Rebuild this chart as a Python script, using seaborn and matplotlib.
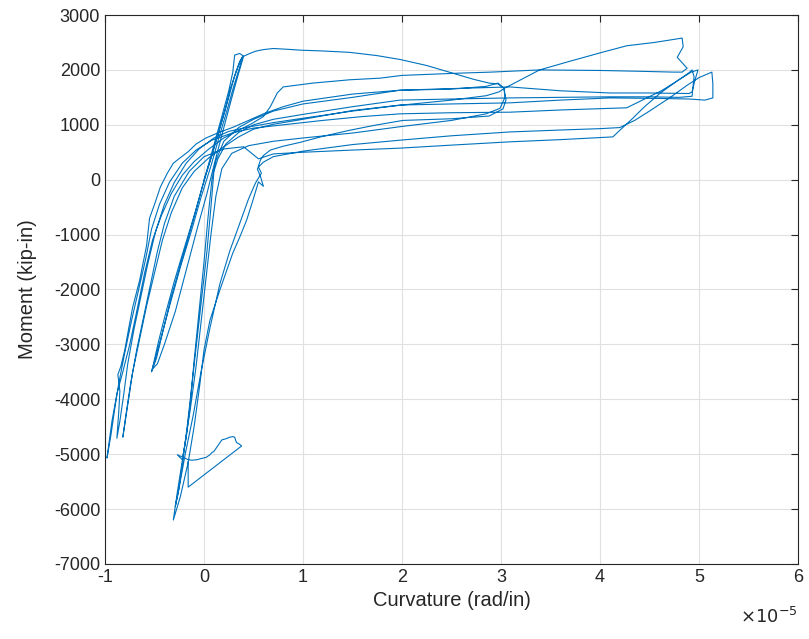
import pandas as pd
import numpy as np
import matplotlib
matplotlib.use('Agg')
import matplotlib.pyplot as plt
import seaborn as sns

# curvature in units of 1e-5 rad/in, moment in kip-in
# each cycle is a list of (curvature, moment) points
cycle_1 = [(0.00, 0), (0.06, 330), (0.13, 760), (0.21, 1250), (0.27, 1680), (0.33, 1990),
           (0.37, 2180), (0.39, 2240), (0.36, 2050), (0.30, 1700), (0.23, 1250), (0.15, 760),
           (0.07, 250), (-0.03, -320), (-0.13, -950), (-0.24, -1600), (-0.34, -2250),
           (-0.43, -2850), (-0.49, -3250), (-0.53, -3500), (-0.51, -3350), (-0.46, -2950),
           (-0.39, -2450), (-0.30, -1850), (-0.20, -1250), (-0.09, -600), (0.01, 50),
           (0.10, 640), (0.18, 1150), (0.25, 1620), (0.29, 1950), (0.31, 2270), (0.36, 2300),
           (0.40, 2250), (0.34, 1880), (0.27, 1420), (0.19, 880), (0.11, 330), (0.03, -250),
           (-0.07, -900), (-0.18, -1650), (-0.29, -2400), (-0.40, -3000), (-0.47, -3350),
           (-0.52, -3450), (-0.48, -3250), (-0.42, -2800), (-0.34, -2200), (-0.23, -1500),
           (-0.12, -800), (-0.02, -150), (0.08, 450), (0.17, 1000), (0.25, 1500), (0.31, 1900),
           (0.36, 2150), (0.39, 2240)]

cycle_2 = [(0.45, 2290), (0.52, 2340), (0.60, 2370), (0.70, 2390), (0.85, 2375), (0.97, 2360),
           (1.20, 2345), (1.47, 2320), (1.75, 2260), (1.98, 2190), (2.25, 2080), (2.55, 1920),
           (2.72, 1830), (2.88, 1760), (2.97, 1745), (3.03, 1670), (3.05, 1450), (3.02, 1290),
           (2.88, 1160), (2.50, 1110), (2.01, 1080), (1.72, 990), (1.47, 900), (1.20, 790),
           (0.97, 680), (0.80, 610), (0.67, 540), (0.60, 440), (0.57, 360), (0.54, 190),
           (0.57, 60), (0.60, -120), (0.55, -40), (0.49, -400), (0.43, -740), (0.36, -1050),
           (0.29, -1340), (0.22, -1700), (0.16, -2010), (0.06, -2560), (0.00, -3100),
           (-0.04, -3700), (-0.10, -4500), (-0.16, -5150), (-0.24, -5780), (-0.31, -6200),
           (-0.27, -5700), (-0.20, -4900), (-0.14, -4200), (-0.08, -3400), (-0.03, -2600),
           (0.02, -1800), (0.07, -1000), (0.12, -300), (0.18, 200), (0.28, 480), (0.45, 620)]

cycle_3 = [(0.70, 700), (1.00, 760), (1.50, 850), (2.00, 970), (2.50, 1080), (2.85, 1200),
           (2.99, 1300), (3.04, 1500), (3.03, 1660), (2.97, 1760), (2.85, 1700), (2.50, 1650),
           (1.98, 1630), (1.50, 1560), (1.00, 1430), (0.80, 1330), (0.60, 1200), (0.45, 1080),
           (0.30, 960), (0.15, 860), (0.02, 760), (-0.08, 650), (-0.16, 510), (-0.24, 400),
           (-0.31, 300), (-0.37, 120), (-0.44, -130), (-0.50, -450), (-0.55, -700),
           (-0.58, -1200), (-0.65, -1830), (-0.72, -2320), (-0.76, -2700), (-0.80, -3100),
           (-0.84, -3400), (-0.87, -3550), (-0.85, -3850), (-0.86, -4200), (-0.88, -4710),
           (-0.85, -4400), (-0.81, -3900), (-0.77, -3350), (-0.71, -2750), (-0.64, -2150),
           (-0.57, -1550), (-0.49, -950), (-0.40, -450), (-0.30, -50), (-0.18, 300),
           (-0.05, 560), (0.10, 760), (0.25, 880), (0.45, 960)]

cycle_4 = [(0.70, 1040), (1.00, 1120), (1.50, 1250), (2.00, 1360), (2.50, 1450), (2.85, 1530),
           (2.98, 1600), (3.04, 1670), (3.20, 1820), (3.39, 2000), (3.70, 2160), (4.00, 2310),
           (4.27, 2440), (4.55, 2500), (4.83, 2580), (4.84, 2420), (4.78, 2230), (4.88, 2030),
           (4.83, 1960), (4.74, 1960), (4.40, 1975), (4.00, 1990), (3.39, 2000), (2.90, 1960),
           (2.56, 1940), (2.00, 1900), (1.78, 1850), (1.47, 1820), (1.10, 1760), (0.80, 1690),
           (0.74, 1580), (0.67, 1330), (0.60, 1150), (0.48, 1020), (0.35, 900), (0.20, 760),
           (0.05, 560), (-0.10, 330), (-0.22, 80), (-0.33, -250), (-0.43, -650), (-0.52, -1100),
           (-0.60, -1700), (-0.68, -2400), (-0.75, -3000), (-0.82, -3500), (-0.88, -3900),
           (-0.93, -4400), (-0.96, -4800), (-0.98, -5070), (-0.94, -4650), (-0.90, -4150),
           (-0.86, -3700), (-0.80, -3150), (-0.73, -2550), (-0.66, -2000), (-0.59, -1450),
           (-0.53, -900), (-0.45, -450), (-0.35, -50), (-0.22, 300), (-0.08, 540), (0.08, 720),
           (0.30, 860), (0.50, 940)]

cycle_5 = [(0.80, 1000), (1.20, 1080), (1.60, 1150), (1.98, 1200), (2.50, 1220), (3.09, 1230),
           (3.60, 1270), (4.10, 1300), (4.27, 1310), (4.45, 1470), (4.62, 1620), (4.78, 1800),
           (4.90, 1950), (4.93, 2000), (4.95, 1880), (4.94, 1700), (4.93, 1520), (4.80, 1500),
           (4.50, 1510), (4.10, 1510), (3.60, 1500), (3.09, 1490), (2.50, 1470), (1.98, 1450),
           (1.50, 1330), (1.00, 1190), (0.70, 1100), (0.50, 1000), (0.35, 860), (0.22, 650),
           (0.14, 380), (0.10, 150), (0.07, -500), (0.03, -1300), (-0.02, -2100),
           (-0.07, -2900), (-0.12, -3700), (-0.17, -4500), (-0.22, -5200), (-0.26, -5700),
           (-0.29, -5950), (-0.25, -5600), (-0.19, -5000), (-0.11, -4300), (-0.03, -3500),
           (0.06, -2700), (0.16, -1900), (0.26, -1300), (0.36, -800), (0.45, -350),
           (0.52, -60), (0.58, 120), (0.55, 230), (0.60, 320)]

cycle_6 = [(0.70, 420), (1.00, 520), (1.50, 640), (1.98, 720), (2.50, 800), (3.09, 870),
           (3.60, 905), (4.00, 930), (4.20, 950), (4.35, 1080), (4.50, 1250), (4.71, 1500),
           (4.88, 1720), (5.00, 1860), (5.13, 1960), (5.14, 1750), (5.14, 1490), (5.06, 1450),
           (4.90, 1470), (4.60, 1480), (4.10, 1490), (3.60, 1450), (3.09, 1400), (2.50, 1380),
           (1.98, 1360), (1.50, 1260), (1.00, 1100), (0.70, 1010), (0.50, 920), (0.35, 780),
           (0.20, 600), (0.05, 400), (-0.10, 150), (-0.22, -150), (-0.33, -600), (-0.42, -1100),
           (-0.50, -1700), (-0.58, -2300), (-0.65, -2900), (-0.72, -3500), (-0.77, -4100),
           (-0.82, -4690), (-0.79, -4300), (-0.74, -3700), (-0.68, -3100), (-0.61, -2500),
           (-0.54, -1900), (-0.47, -1300), (-0.40, -800), (-0.30, -300), (-0.15, 150),
           (0.00, 420), (0.20, 560), (0.40, 600), (0.55, 380)]

cycle_7 = [(0.70, 470), (1.00, 500), (1.50, 540), (1.98, 575), (2.50, 630), (3.09, 690),
           (3.60, 730), (4.13, 780), (4.20, 900), (4.32, 1100), (4.45, 1330), (4.61, 1580),
           (4.78, 1800), (4.92, 1960), (4.99, 2000), (4.96, 1820), (4.93, 1600), (4.90, 1570),
           (4.50, 1580), (4.10, 1580), (3.60, 1620), (3.09, 1690), (2.50, 1660), (1.98, 1630),
           (1.50, 1500), (1.00, 1380), (0.70, 1250), (0.50, 1100), (0.35, 950), (0.20, 700),
           (0.12, 350), (0.08, 0), (0.04, -700), (0.00, -1500), (-0.05, -2400),
           (-0.10, -3300), (-0.14, -4100), (-0.18, -4700), (-0.22, -5100), (-0.27, -5010),
           (-0.21, -5060), (-0.16, -5100), (-0.12, -5110), (-0.07, -5100), (-0.03, -5080),
           (0.02, -5060), (0.06, -5010), (0.08, -4970), (0.10, -4950), (0.13, -4870),
           (0.15, -4820), (0.18, -4740), (0.22, -4720), (0.26, -4690), (0.29, -4680),
           (0.31, -4690), (0.32, -4750), (0.33, -4790), (0.36, -4820), (0.38, -4850),
           (-0.16, -5600), (-0.16, -5130)]

cycles = [cycle_1, cycle_2, cycle_3, cycle_4, cycle_5, cycle_6, cycle_7]
pts = [p for c in cycles for p in c]
df = pd.DataFrame(pts, columns=['curvature', 'moment'])
df['step'] = np.arange(len(df))

sns.set_theme(style='white')
plt.rcParams['font.family'] = ['Liberation Sans', 'DejaVu Sans']
plt.rcParams['axes.unicode_minus'] = False

fig = plt.figure(figsize=(8.09, 6.39), dpi=100)
ax = fig.add_axes([0.1298, 0.1174, 0.8566, 0.8591])
sns.lineplot(data=df, x='curvature', y='moment', sort=False, estimator=None,
             color='#0072BD', linewidth=0.8, ax=ax)

ax.set_xlim(-1, 6)
ax.set_ylim(-7000, 3000)
ax.set_xticks(range(-1, 7))
ax.set_yticks(range(-7000, 3001, 1000))
ax.grid(True, color='#e0e0e0', linewidth=0.8)
for s in ax.spines.values():
    s.set_color('#262626')
    s.set_linewidth(0.8)
ax.tick_params(direction='in', top=True, right=True, length=5, width=0.8,
               colors='#262626', labelsize=13)
ax.set_xlabel('Curvature (rad/in)', fontsize=14.5, color='#262626')
ax.set_ylabel('Moment (kip-in)', fontsize=14.5, color='#262626', labelpad=12)
ax.text(1.0, -0.097, r'$\times10^{-5}$', transform=ax.transAxes, ha='right', va='center',
        fontsize=13, color='#262626')

fig.savefig('out.png', dpi=100)
